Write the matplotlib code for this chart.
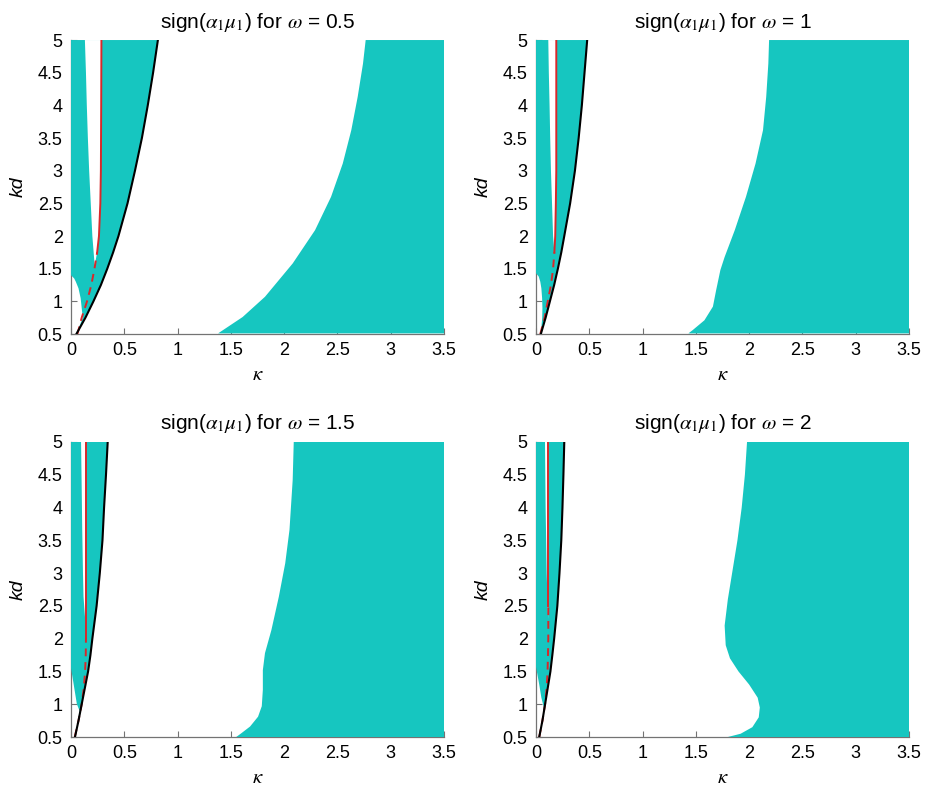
import numpy as np
import matplotlib
matplotlib.use("Agg")
import matplotlib.pyplot as plt

plt.rcParams['font.family'] = ['Liberation Sans', 'DejaVu Sans']
plt.rcParams['mathtext.fontset'] = 'stix'

TEAL = '#16C6C0'

omegas = ['0.5', '1', '1.5', '2']

# black curve (outer edge of the wedge)
black_kd = [0.5, 0.75, 1.0, 1.25, 1.5, 1.75, 2.0, 2.5, 3.0, 3.5, 4.0, 4.5, 5.0]
black_k = [
    [0.05, 0.135, 0.21, 0.28, 0.34, 0.395, 0.445, 0.53, 0.60, 0.665, 0.72, 0.77, 0.815],
    [0.045, 0.09, 0.13, 0.17, 0.205, 0.237, 0.265, 0.32, 0.365, 0.40, 0.43, 0.455, 0.48],
    [0.037, 0.07, 0.10, 0.13, 0.16, 0.182, 0.20, 0.24, 0.27, 0.295, 0.31, 0.328, 0.344],
    [0.03, 0.06, 0.085, 0.11, 0.135, 0.153, 0.17, 0.20, 0.22, 0.237, 0.248, 0.257, 0.265],
]

# red curve
red_kd = [0.5, 0.75, 1.0, 1.25, 1.5, 1.75, 2.0, 2.5, 3.0, 4.0, 5.0]
red_k = [
    [0.06, 0.10, 0.15, 0.19, 0.22, 0.245, 0.262, 0.275, 0.28, 0.283, 0.285],
    [0.04, 0.08, 0.11, 0.14, 0.16, 0.172, 0.18, 0.186, 0.19, 0.19, 0.19],
    [0.035, 0.07, 0.10, 0.12, 0.132, 0.138, 0.14, 0.14, 0.14, 0.14, 0.14],
    [0.03, 0.06, 0.085, 0.10, 0.108, 0.112, 0.115, 0.115, 0.115, 0.115, 0.115],
]
red_solid_from = [1.55, 1.65, 1.78, 2.06]

# right edge of the thin left strip (white gap up to the red curve)
gap_kd = [
    [1.55, 2.0, 2.5, 3.0, 3.5, 4.0, 4.5, 5.0],
    [1.75, 2.0, 2.5, 3.0, 3.5, 4.0, 4.5, 5.0],
    [2.2, 2.64, 3.0, 3.66, 4.3, 5.0],
    [2.3, 3.0, 3.5, 4.0, 4.5, 5.0],
]
gap_k = [
    [0.222, 0.2, 0.185, 0.17, 0.158, 0.148, 0.14, 0.13],
    [0.172, 0.16, 0.15, 0.14, 0.133, 0.127, 0.12, 0.115],
    [0.137, 0.117, 0.112, 0.105, 0.1, 0.094],
    [0.113, 0.1, 0.095, 0.09, 0.087, 0.084],
]

# left edge of teal (white bubble near kd = 1)
wall_kd = [
    [0.5, 0.6, 0.75, 0.9, 1.05, 1.2, 1.3, 1.35, 1.4, 5.0],
    [0.5, 0.6, 0.75, 0.9, 1.05, 1.2, 1.3, 1.38, 1.43, 5.0],
    [0.5, 0.7, 0.9, 1.0, 1.15, 1.35, 1.55, 5.0],
    [0.5, 0.8, 0.96, 1.1, 1.3, 1.57, 5.0],
]
wall_k = [
    [0.045, 0.075, 0.11, 0.10, 0.09, 0.07, 0.045, 0.03, 0.0, 0.0],
    [0.035, 0.05, 0.058, 0.06, 0.057, 0.05, 0.04, 0.025, 0.0, 0.0],
    [0.037, 0.06, 0.08, 0.055, 0.04, 0.02, 0.0, 0.0],
    [0.03, 0.065, 0.072, 0.05, 0.03, 0.0, 0.0],
]

# left edge of the large teal region on the right
right_kd = [
    [0.51, 0.76, 1.07, 1.58, 2.09, 2.60, 3.11, 3.62, 4.13, 4.64, 5.0],
    [0.51, 0.56, 0.71, 0.92, 1.17, 1.48, 1.68, 2.09, 2.60, 3.11, 3.62, 4.13, 4.64, 5.0],
    [0.5, 0.56, 0.66, 0.81, 0.97, 1.22, 1.52, 1.78, 2.13, 2.64, 3.15, 3.66, 4.42, 5.0],
    [0.5, 0.55, 0.65, 0.8, 0.95, 1.1, 1.3, 1.5, 1.7, 1.9, 2.2, 2.6, 3.0, 3.5, 4.0, 4.5, 5.0],
]
right_k = [
    [1.38, 1.61, 1.82, 2.08, 2.29, 2.44, 2.55, 2.63, 2.69, 2.74, 2.765],
    [1.43, 1.47, 1.58, 1.66, 1.69, 1.73, 1.77, 1.865, 1.97, 2.06, 2.13, 2.16, 2.18, 2.187],
    [1.55, 1.60, 1.68, 1.755, 1.79, 1.80, 1.80, 1.82, 1.88, 1.95, 2.01, 2.05, 2.08, 2.09],
    [1.8, 1.92, 2.03, 2.09, 2.1, 2.08, 2.0, 1.9, 1.82, 1.78, 1.77, 1.8, 1.84, 1.89, 1.93, 1.96, 1.98],
]

x_ticks = [0, 0.5, 1, 1.5, 2, 2.5, 3, 3.5]
x_labels = ['0', '0.5', '1', '1.5', '2', '2.5', '3', '3.5']
y_ticks = [0.5, 1, 1.5, 2, 2.5, 3, 3.5, 4, 4.5, 5]
y_labels = ['0.5', '1', '1.5', '2', '2.5', '3', '3.5', '4', '4.5', '5']


def between(ax, kd_a, k_a, kd_b, k_b, color):
    """polygon between a left curve and a right curve"""
    xs = np.concatenate([k_a, np.asarray(k_b)[::-1]])
    ys = np.concatenate([kd_a, np.asarray(kd_b)[::-1]])
    ax.fill(xs, ys, color=color, lw=0, zorder=3)


def draw_panel(ax, i):
    between(ax, wall_kd[i], wall_k[i], black_kd, black_k[i], TEAL)

    # white gap between left strip and red curve
    rkd = np.array(red_kd)
    rk = np.array(red_k[i])
    m = rkd > gap_kd[i][0]
    between(ax, gap_kd[i], gap_k[i],
            np.concatenate([[gap_kd[i][0]], rkd[m]]),
            np.concatenate([[gap_k[i][0]], rk[m]]), 'white')

    n = len(right_kd[i])
    between(ax, right_kd[i], right_k[i], right_kd[i], [3.5] * n, TEAL)

    s = rkd >= red_solid_from[i]
    first = np.argmax(s)
    low = ~s
    low[first] = True
    ax.plot(rk[s], rkd[s], color='#D8282A', lw=1.4, zorder=4)
    ax.plot(rk[low], rkd[low], color='#D8282A', lw=1.4, ls=(0, (4, 3)), zorder=4)
    ax.plot(black_k[i], black_kd, color='black', lw=1.5, zorder=5)

    ax.set_xlim(0, 3.5)
    ax.set_ylim(0.5, 5)
    ax.set_xticks(x_ticks)
    ax.set_xticklabels(x_labels)
    ax.set_yticks(y_ticks)
    ax.set_yticklabels(y_labels)
    ax.tick_params(direction='in', length=4, width=0.8, color='0.45',
                   labelsize=13, pad=6)
    for side in ['top', 'right']:
        ax.spines[side].set_visible(False)
    for side in ['left', 'bottom']:
        ax.spines[side].set_color('0.45')
        ax.spines[side].set_linewidth(0.9)
    ax.set_xlabel(r'$\kappa$', fontsize=15, labelpad=4)
    ax.set_ylabel('kd', fontsize=14, style='italic', labelpad=8)
    ax.set_title(r'sign($\alpha_1\mu_1$) for $\omega$ = ' + omegas[i],
                 fontsize=15, pad=9)


fig = plt.figure(figsize=(9.25, 7.88), dpi=100)
positions = [
    [0.0768, 0.5761, 0.4032, 0.3731],
    [0.5795, 0.5761, 0.4032, 0.3731],
    [0.0768, 0.0647, 0.4032, 0.3744],
    [0.5795, 0.0647, 0.4032, 0.3744],
]
for i, pos in enumerate(positions):
    ax = fig.add_axes(pos)
    draw_panel(ax, i)

fig.savefig('out.png', dpi=100)
